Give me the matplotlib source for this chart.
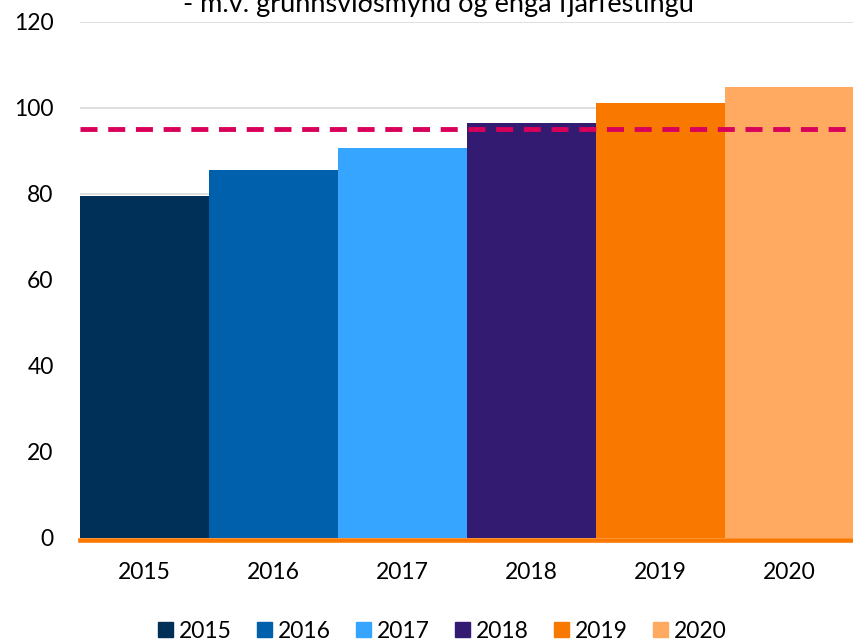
import matplotlib.pyplot as plt
from matplotlib.patches import Patch

years = ['2015', '2016', '2017', '2018', '2019', '2020']
values = [79.5, 85.6, 90.7, 96.5, 101.2, 104.9]
colors = ['#003057', '#0060ac', '#36a5ff', '#341b72', '#f87800', '#ffaa60']
target = 95

plt.rcParams['font.family'] = ['Lato', 'DejaVu Sans']

fig = plt.figure(figsize=(8.54, 6.41), dpi=100)
ax = fig.add_axes([0.0937, 0.1607, 0.9063, 0.805])

x = range(len(years))
ax.bar(x, values, width=1.0, color=colors, zorder=2)
# orange base line sits just under the bars
ax.axhline(-0.55, color='#f87800', lw=3.3, zorder=3, clip_on=False)
ax.axhline(target, color='#d9005b', lw=3.5, dashes=(3.5, 2.2), zorder=4)

ax.set_xlim(-0.5, 5.5)
ax.set_ylim(0, 120)
ax.set_yticks(range(0, 121, 20))
ax.set_xticks(list(x))
ax.set_xticklabels(years)
ax.tick_params(length=0, labelsize=16.5, colors='black')
ax.tick_params(axis='x', pad=17)
ax.tick_params(axis='y', pad=19)
ax.grid(axis='y', color='#d9d9d9', lw=1.2, zorder=0)
for s in ax.spines.values():
    s.set_visible(False)

fig.text(0.513, 1 - 12 / 641, '- m.v. grunnsviðsmynd og enga fjárfestingu',
         ha='center', va='baseline', fontsize=19.5)

handles = [Patch(color=c, label=y) for c, y in zip(colors, years)]
fig.legend(handles=handles, loc='center', bbox_to_anchor=(0.518, 0.0156), ncol=6,
           frameon=False, fontsize=16.5, handlelength=0.65, handleheight=0.65,
           handletextpad=0.27, columnspacing=1.09)

fig.savefig('out.png', dpi=100)
